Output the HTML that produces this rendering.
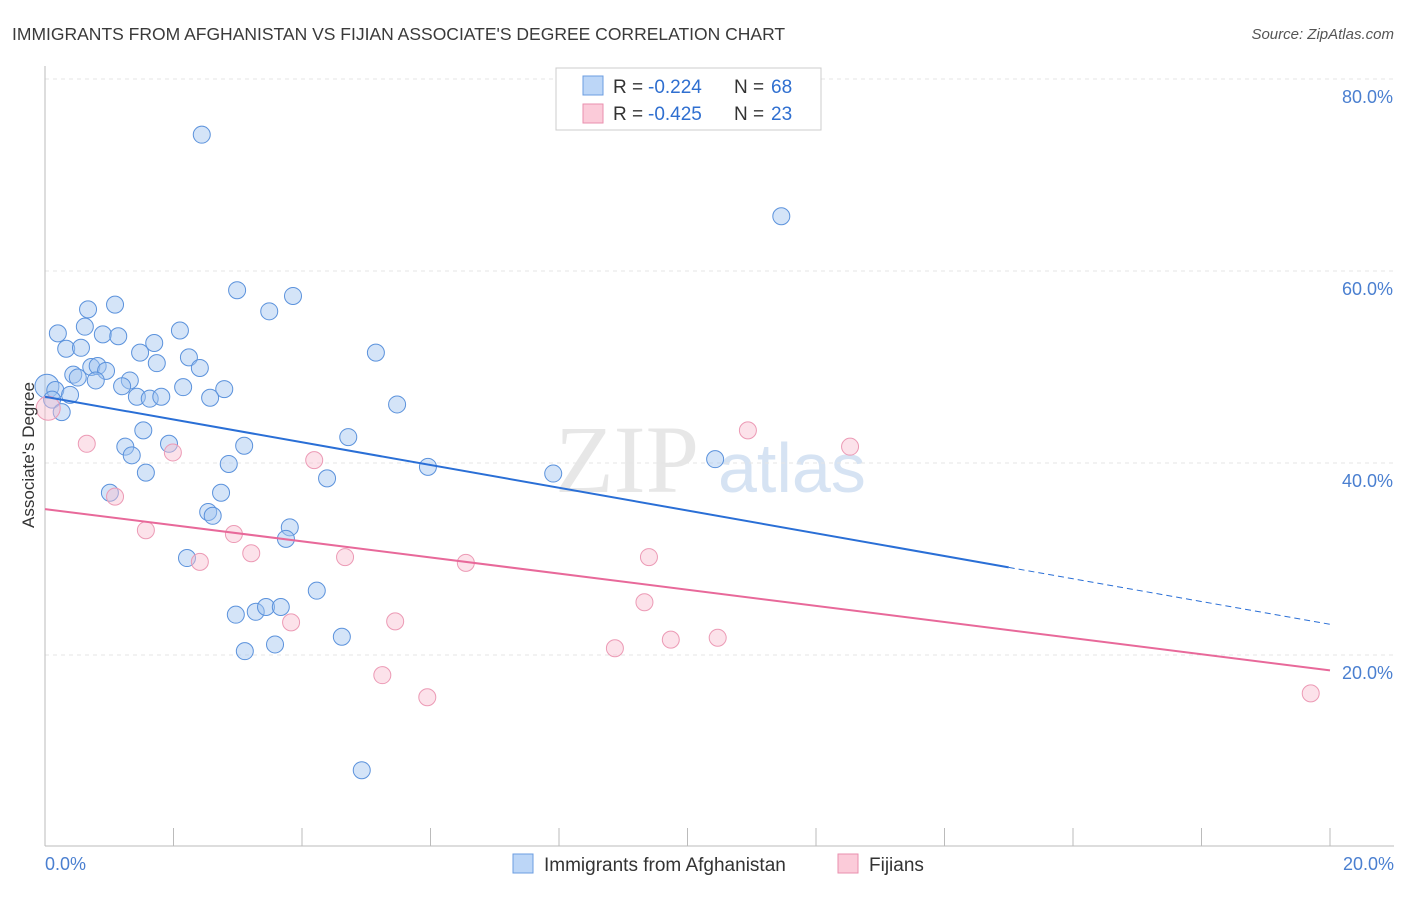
<!DOCTYPE html>
<html><head><meta charset="utf-8"><style>
body{margin:0;background:#fff;font-family:"Liberation Sans",sans-serif}
</style></head><body>
<svg id="chart" width="1406" height="892" xmlns="http://www.w3.org/2000/svg" font-family="Liberation Sans, sans-serif">
<text x="12" y="40" font-size="17.5" fill="#3a3a3a">IMMIGRANTS FROM AFGHANISTAN VS FIJIAN ASSOCIATE'S DEGREE CORRELATION CHART</text>
<text x="1394" y="39" font-size="15" fill="#555" text-anchor="end" font-style="italic">Source: ZipAtlas.com</text>
<text x="555" y="492" font-size="96" fill="#ddd" font-family="Liberation Serif, serif" opacity="0.7">ZIP</text>
<text x="718" y="492" font-size="70" fill="#c5d8ef" opacity="0.7">atlas</text>
<g id="grid"></g><g id="axes"></g><g id="pts"></g><g id="trends"></g>
<text transform="translate(34,455) rotate(-90)" font-size="17" fill="#333" text-anchor="middle">Associate's Degree</text>
<text x="45" y="870" font-size="18" fill="#4a7fd0">0.0%</text>
<text x="1394" y="870" font-size="18" fill="#4a7fd0" text-anchor="end">20.0%</text>
<g font-size="19">
<rect x="556" y="68" width="265" height="62" fill="#fff" stroke="#ccc"/>
<rect x="583" y="76" width="20" height="19" fill="#bcd6f7" stroke="#6b9de0"/>
<rect x="583" y="104" width="20" height="19" fill="#fbcbd9" stroke="#e98fae"/>
<text x="613" y="93" fill="#333">R =</text><text x="648" y="93" fill="#2f6fd0">-0.224</text>
<text x="734" y="93" fill="#333">N =</text><text x="771" y="93" fill="#2f6fd0">68</text>
<text x="613" y="120" fill="#333">R =</text><text x="648" y="120" fill="#2f6fd0">-0.425</text>
<text x="734" y="120" fill="#333">N =</text><text x="771" y="120" fill="#2f6fd0">23</text>
</g>
<g>
<rect x="513" y="854" width="20" height="19" fill="#bcd6f7" stroke="#6b9de0"/>
<text x="544" y="871" font-size="19" fill="#333">Immigrants from Afghanistan</text>
<rect x="838" y="854" width="20" height="19" fill="#fbcbd9" stroke="#e98fae"/>
<text x="869" y="871" font-size="19" fill="#333">Fijians</text>
</g>
</svg>
<script>
const blueX=[2.44,11.46,2.99,3.86,3.49,0.67,1.09,0.20,0.62,0.90,1.14,2.10,0.33,0.56,1.70,1.48,2.24,5.15,1.74,2.41,0.72,0.82,0.95,0.44,0.51,1.32,0.79,1.20,2.15,2.79,0.03,0.16,0.39,1.43,1.63,1.81,2.57,5.48,0.11,0.26,1.53,4.72,1.25,3.10,1.93,1.35,2.86,5.96,7.91,10.43,1.57,4.39,1.01,2.74,2.54,2.61,3.81,3.75,2.21,4.23,2.97,3.28,3.44,3.67,4.62,3.58,3.11,4.93];
const blueY=[74.2,65.7,58.0,57.4,55.8,56.0,56.5,53.5,54.2,53.4,53.2,53.8,51.9,52.0,52.5,51.5,51.0,51.5,50.4,49.9,50.0,50.1,49.6,49.2,48.9,48.6,48.6,48.0,47.9,47.7,48.0,47.6,47.1,46.9,46.7,46.9,46.8,46.1,46.6,45.3,43.4,42.7,41.7,41.8,42.0,40.8,39.9,39.6,38.9,40.4,39.0,38.4,36.9,36.9,34.9,34.5,33.3,32.1,30.1,26.7,24.2,24.5,25.0,25.0,21.9,21.1,20.4,8.0];
const pinkX=[0.05,0.65,1.09,1.99,1.57,2.41,2.94,3.21,4.19,3.83,4.67,5.45,5.25,5.95,6.55,9.33,8.87,9.40,9.74,10.47,10.94,12.53,19.70];
const pinkY=[45.7,42.0,36.5,41.1,33.0,29.7,32.6,30.6,40.3,23.4,30.2,23.5,17.9,15.6,29.6,25.5,20.7,30.2,21.6,21.8,43.4,41.7,16.0];
const yTicks=[20,40,60,80];
const yTickLabels=["20.0%","40.0%","60.0%","80.0%"];
const xTicks=[0,2,4,6,8,10,12,14,16,18,20];
const blueTrend=[46.9,23.2], blueSolidEnd=15.0;
const pinkTrend=[35.2,18.4];
const NS="http://www.w3.org/2000/svg";
const sx=v=>45+v*64.25, sy=v=>847-v*9.6;
function mk(tag,attrs,parent){const e=document.createElementNS(NS,tag);for(const k in attrs)e.setAttribute(k,attrs[k]);document.getElementById(parent).appendChild(e);return e;}
yTicks.forEach((t,i)=>{
 const g=mk('line',{x1:45,x2:1394,y1:sy(t),y2:sy(t),stroke:'#e6e6e6','stroke-dasharray':'4,4'},'grid');
 
 
 const l=mk('text',{x:1393,y:sy(t)+24,'font-size':18,fill:'#4a7fd0','text-anchor':'end'},'grid');
 l.textContent=yTickLabels[i];
 
 
});
const ya=mk('line',{x1:45,x2:45,y1:66,y2:846,stroke:'#bbb'},'axes');


const xa=mk('line',{x1:45,x2:1394,y1:846,y2:846,stroke:'#bbb'},'axes');


xTicks.forEach(t=>{
 const k=mk('line',{x1:sx(t),x2:sx(t),y1:828,y2:846,stroke:'#bbb'},'axes');
 
 
});
blueX.forEach((x,i)=>{
 const c=mk('circle',{cx:sx(x),cy:sy(blueY[i]),r:i===30?12:8.5,fill:'rgba(160,196,240,0.45)',stroke:'#5b92dc','stroke-width':1},'pts');
 
 
});
pinkX.forEach((x,i)=>{
 const c=mk('circle',{cx:sx(x),cy:sy(pinkY[i]),r:i===0?12:8.5,fill:'rgba(248,190,208,0.45)',stroke:'#ec9ab5','stroke-width':1},'pts');
 
 
});
const bAt=x=>blueTrend[0]+(blueTrend[1]-blueTrend[0])*x/20;
const bl=mk('line',{x1:sx(0),y1:sy(bAt(0)),x2:sx(blueSolidEnd),y2:sy(bAt(blueSolidEnd)),stroke:'#2a6fd6','stroke-width':2},'trends');


const bd=mk('line',{x1:sx(blueSolidEnd),y1:sy(bAt(blueSolidEnd)),x2:sx(20),y2:sy(bAt(20)),stroke:'#2a6fd6','stroke-width':1,'stroke-dasharray':'6,4'},'trends');


const pl=mk('line',{x1:sx(0),y1:sy(pinkTrend[0]),x2:sx(20),y2:sy(pinkTrend[1]),stroke:'#e8699a','stroke-width':2},'trends');


</script>
</body></html>
